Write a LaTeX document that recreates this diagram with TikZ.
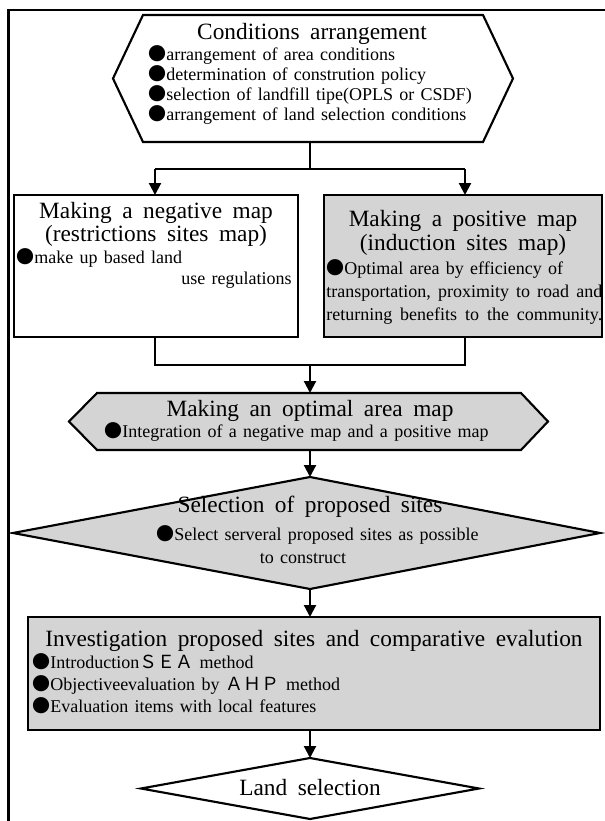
\documentclass[tikz,border=0pt]{standalone}
\usepackage{fontspec}
\setmainfont{Liberation Serif}[WordSpace=1.4]
\newfontfamily\ttlfont{Liberation Serif}[WordSpace=1.8]
\newfontfamily\cjk{Noto Sans CJK JP}
\usetikzlibrary{arrows.meta,calc,fit}
\newcommand\bul{{\cjk ●}}
\tikzset{
  shp/.style={draw=black, line width=1.6pt, line join=miter},
  gfill/.style={fill=black!17},
  conn/.style={line width=1.6pt},
  arr/.style={conn, -{Triangle[width=9pt,length=9pt]}},
  area/.style={inner sep=0pt, outer sep=0pt},
  ttl/.style={font=\ttlfont\fontsize{17.5}{19}\selectfont, anchor=base, inner sep=0pt},
  txt/.style={font=\fontsize{13.5}{16}\selectfont, anchor=base west, inner sep=0pt},
}
\begin{document}
\begin{tikzpicture}[x=0.75pt,y=-0.75pt]
\useasboundingbox (0,0) rectangle (605,821);
% frame
\draw[line width=1.6pt] (8.5,821) -- (8.5,10) -- (605,10);
\coordinate (cx) at (310,0);

% hexagon 1
\node[area, fit={(113,15) (513,142)}] (h1) {};
\draw[shp, fill=white] (113,78.5) -- (143,15) -- (483,15) -- (513,78.5) -- (483,142) -- (143,142) -- cycle;
\node[ttl] (h1t) at (312,39) {Conditions arrangement};
\node[txt] (h1a) at (148,60) {\bul arrangement of area conditions};
\node[txt] (h1b) at (148,80) {\bul determination of constrution policy};
\node[txt] (h1c) at (148,100) {\bul selection of landfill tipe(OPLS or CSDF)};
\node[txt] (h1d) at (148,120) {\bul arrangement of land selection conditions};

% negative / positive boxes
\node[area, shp, fill=white, fit={(14,195) (298,337)}] (neg) {};
\node[area, shp, gfill, fit={(324,195) (602,337)}] (pos) {};
\node[ttl] (nt1) at (156,218) {Making a negative map};
\node[ttl] (nt2) at (156,241) {(restrictions sites map)};
\node[txt] (nb1) at (16,263) {\bul make up based land};
\node[txt, anchor=base east] (nb2) at (292,284) {use regulations};
\node[ttl] (pt1) at (463,226) {Making a positive map};
\node[ttl] (pt2) at (463,250) {(induction sites map)};
\node[txt] (pb1) at (326,274) {\bul Optimal area by efficiency of};
\node[txt] (pb2) at (326,297) {\makebox[207pt][s]{transportation, proximity to road and}};
\node[txt] (pb3) at (326,320) {\makebox[207pt][s]{returning benefits to the community.}};

% hexagon 2
\node[area, fit={(69,393) (548,450)}] (h2) {};
\draw[shp, gfill] (69,421.5) -- (97,393) -- (521,393) -- (548,421.5) -- (521,450) -- (97,450) -- cycle;
\node[ttl] (h2t) at (310,416) {Making an optimal area map};
\node[txt] (h2a) at (104,437) {\bul Integration of a negative map and a positive map};

% diamond
\node[area, fit={(13,477) (600,589)}] (d1) {};
\draw[shp, gfill] (310,477) -- (600,533) -- (310,589) -- (13,533) -- cycle;
\node[ttl] (d1t) at (310,512) {Selection of proposed sites};
\node[txt] (d1a) at (156,540) {\bul Select serveral proposed sites as possible};
\node[txt, anchor=base] (d1b) at (303,563) {to construct};

% box 3
\node[area, shp, gfill, fit={(28,617) (600,730)}] (b3) {};
\node[ttl] (b3t) at (314,646) {Investigation proposed sites and comparative evalution};
\node[txt] (b3a) at (32,668) {\bul Introduction{\cjk ＳＥＡ} method};
\node[txt] (b3b) at (32,690) {\bul Objectiveevaluation by {\cjk ＡＨＰ} method};
\node[txt] (b3c) at (32,712) {\bul Evaluation items with local features};

% final diamond
\node[area, fit={(141,758) (479,819)}] (d2) {};
\draw[shp, fill=white] (310,758) -- (479,788.5) -- (310,819) -- (141,788.5) -- cycle;
\node[ttl] (d2t) at (310,795) {Land selection};

% connectors
\coordinate (split) at (310,169);
\coordinate (sl) at (155,169);
\coordinate (sr) at (465,169);
\draw[conn] (h1.south -| cx) -- (split);
\draw[conn] (sl) -- (sr);
\draw[arr] (sl) -- (sl |- neg.north);
\draw[arr] (sr) -- (sr |- pos.north);
\coordinate (ml) at (155,365);
\coordinate (mr) at (465,365);
\coordinate (merge) at (310,365);
\draw[conn] (ml |- neg.south) -- (ml) -- (mr) -- (mr |- pos.south);
\draw[arr] (merge) -- (h2.north -| cx);
\draw[arr] (h2.south -| cx) -- (d1.north -| cx);
\draw[arr] (d1.south -| cx) -- (b3.north -| cx);
\draw[arr] (b3.south -| cx) -- (d2.north -| cx);
\end{tikzpicture}
\end{document}
